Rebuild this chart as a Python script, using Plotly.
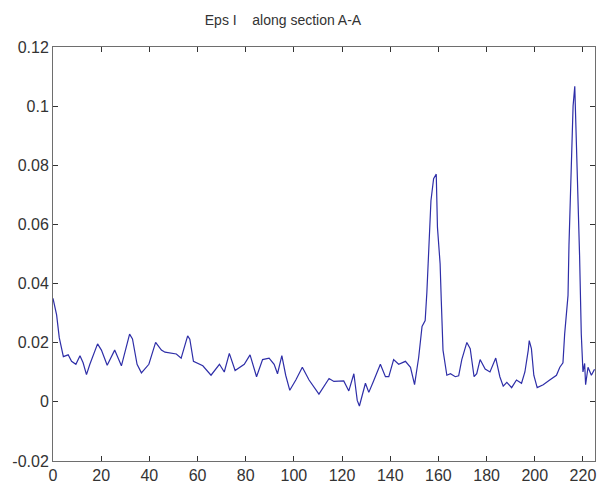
import plotly.graph_objects as go

# Position along section A-A
x_pos = [0, 1.5, 2.6, 4.3, 6.3, 7.7, 9.5, 11.2, 12.5, 13.9,
         15.3, 18.5, 20.1, 22.5, 25.6, 28.4, 31.8, 33, 34.9, 36.7,
         39.8, 42.6, 45, 46.5, 51.2, 53.2, 55.9, 56.8, 58.3, 62.2,
         65.6, 69.1, 71.1, 73.2, 75.6, 79.4, 81.8, 84.5, 87, 89.7,
         91.8, 93.2, 95, 96.6, 98.3, 100.8, 103.5, 106.3, 110.4, 114.6,
         116.6, 120.7, 122.8, 124.9, 126.3, 127.2, 129.7, 131.1, 133, 135.9,
         138, 139.4, 141.4, 143.5, 146.3, 148.4, 150.1, 151.8, 153.2, 154.5,
         155.2, 155.9, 156.9, 158, 159.1, 159.6, 160.7, 161.2, 161.9, 163.5,
         165, 167, 168.4, 169.7, 171.8, 173.2, 174.8, 175.9, 177.3, 179.4,
         181.4, 183.8, 185.5, 186.9, 188.4, 190.4, 192.4, 194.5, 195.9, 197.3,
         197.7, 198.6, 199.6, 201, 203.5, 206.2, 209, 210.4, 211.7, 212.4,
         213.8, 214.2, 215.2, 215.9, 216.6, 217.3, 218, 218.6, 219.3, 220,
         220.7, 221.1, 222.1, 223.5, 224.8]

# Eps I values
eps_i = [0.035, 0.0294, 0.0217, 0.0153, 0.0159, 0.0137, 0.0127, 0.0156, 0.0132, 0.0092,
         0.0127, 0.0196, 0.0175, 0.0124, 0.0175, 0.0122, 0.0229, 0.0213, 0.0127, 0.0098,
         0.0127, 0.0201, 0.0175, 0.0168, 0.0162, 0.0148, 0.0223, 0.0212, 0.0137, 0.0122,
         0.009, 0.0127, 0.0101, 0.0164, 0.0106, 0.0127, 0.0159, 0.0085, 0.0143, 0.0148,
         0.0127, 0.0095, 0.0156, 0.009, 0.0039, 0.0074, 0.0117, 0.0074, 0.0026, 0.0079,
         0.0069, 0.0071, 0.0037, 0.0095, 0.0005, -0.0014, 0.0063, 0.0032, 0.0069, 0.0127,
         0.0085, 0.0085, 0.0143, 0.0127, 0.0137, 0.0117, 0.0058, 0.015, 0.0255, 0.0275,
         0.037, 0.049, 0.068, 0.0755, 0.077, 0.059, 0.0467, 0.034, 0.0175, 0.009,
         0.0095, 0.0085, 0.0088, 0.0143, 0.0201, 0.018, 0.0085, 0.0095, 0.0143, 0.0111,
         0.0101, 0.0148, 0.0085, 0.0053, 0.0066, 0.0048, 0.0074, 0.0063, 0.0101, 0.0175,
         0.0207, 0.018, 0.009, 0.0048, 0.0058, 0.0074, 0.009, 0.0117, 0.0132, 0.0229,
         0.036, 0.053, 0.0804, 0.1, 0.1067, 0.089, 0.071, 0.0495, 0.023, 0.0101,
         0.013, 0.0058, 0.0117, 0.009, 0.011]

x_ticks = [0, 20, 40, 60, 80, 100, 120, 140, 160, 180, 200, 220]
y_ticks = [-0.02, 0, 0.02, 0.04, 0.06, 0.08, 0.1, 0.12]
y_tick_labels = ["-0.02", "0", "0.02", "0.04", "0.06", "0.08", "0.1", "0.12"]

fig = go.Figure()
fig.add_trace(go.Scatter(x=x_pos, y=eps_i, mode="lines",
                         line=dict(color="#2e2ea8", width=1.2),
                         showlegend=False))

axis_common = dict(
    showgrid=False, zeroline=False, showline=True, linecolor="#6e6e6e",
    linewidth=1, mirror="ticks", ticks="inside", ticklen=5, tickwidth=1,
    tickcolor="#333333",
    tickfont=dict(family="Liberation Sans, Arial, sans-serif", size=16, color="#333333"),
)

fig.update_xaxes(range=[0, 225], tickvals=x_ticks, **axis_common)
fig.update_yaxes(range=[-0.02, 0.12], tickvals=y_ticks, ticktext=y_tick_labels,
                 **axis_common)

fig.update_layout(
    width=598, height=486,
    margin=dict(l=53, r=2, t=47, b=21),
    paper_bgcolor="white", plot_bgcolor="white",
    title=dict(text="Eps I &nbsp;&nbsp; along section A-A", x=283/598,
               xanchor="center", y=0.958, yanchor="middle",
               font=dict(family="Liberation Sans, Arial, sans-serif", size=14, color="#333333")),
)

fig.write_html("out.html")
